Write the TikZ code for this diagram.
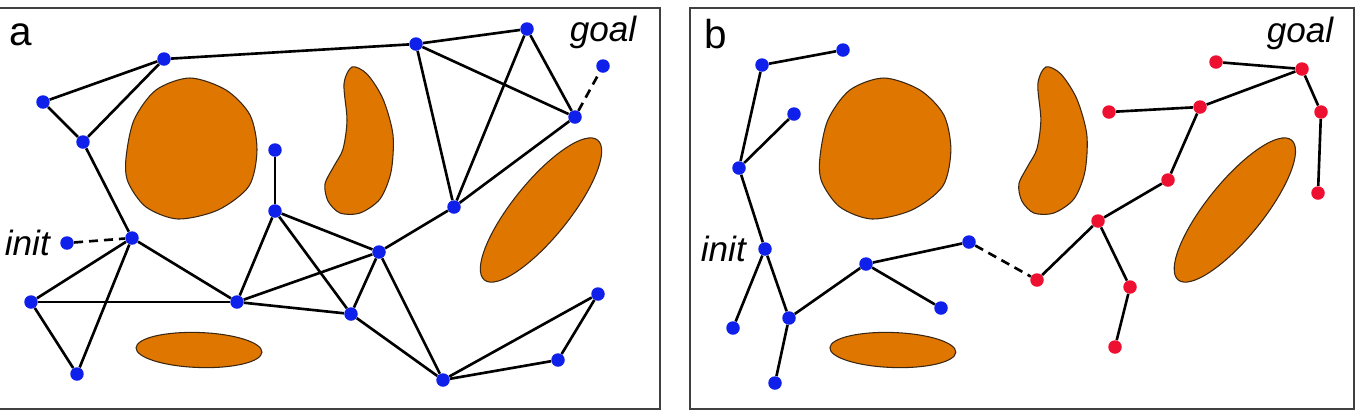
\documentclass[tikz,border=0pt]{standalone}
\usepackage{fontspec}
\setmainfont{Liberation Sans}
\usetikzlibrary{positioning}

\definecolor{obstfill}{RGB}{222,118,0}
\definecolor{treeblue}{RGB}{16,32,235}
\definecolor{treered}{RGB}{238,16,48}

% the four obstacles, drawn once per panel
\newcommand{\drawobstacles}{%
    \draw[obst] plot[smooth cycle] coordinates {(190,78) (226,90) (250,115) (257,150) (249,186)
        (218,210) (178,219) (146,207) (128,182) (126,158) (134,120) (156,90)};
    \draw[obst] plot[smooth cycle] coordinates {(352,67) (367,74) (383,99) (393,135) (391,172)
        (380,199) (360,213) (340,213) (328,201) (325,184) (334,166) (343,149) (347,120) (344,84)};
    \draw[obst, rotate around={51:(541,210)}] (541,210) ellipse [x radius=1.8cm, y radius=0.56cm];
    \draw[obst, rotate around={-2:(199,350)}] (199,350) ellipse [x radius=1.26cm, y radius=0.35cm];
}

\begin{document}
\begin{tikzpicture}[
        x=0.02cm, y=-0.02cm,
        every node/.style={font=\fontsize{20}{24}\selectfont},
        vtx/.style={circle, fill=treeblue, inner sep=0pt, minimum size=0.27cm},
        rvtx/.style={vtx, fill=treered},
        link/.style={line width=1.5pt, draw=black},
        dashlink/.style={link, dash pattern=on 0.18cm off 0.12cm},
        obst/.style={fill=obstfill, draw=black!70!brown, line width=0.6pt},
        panel/.style={draw=black!75, line width=1.6pt},
        lbl/.style={font=\fontsize{20}{24}\selectfont\itshape, inner sep=1pt},
        panellbl/.style={font=\fontsize{23}{27}\selectfont, inner sep=1pt}
        ]

    \useasboundingbox (0,0) rectangle (1360,417);

    % --- Frames and obstacles ---
        \draw[panel] (-4,8) rectangle (660,409);
        \draw[panel] (690,8) rectangle (1354,409);
        \drawobstacles
        \begin{scope}[xshift=13.88cm]
            \drawobstacles
        \end{scope}

        \node[panellbl] (taga) at (21,35) {a};
        \node[panellbl] (tagb) at (716,34) {b};

    % --- Panel a: roadmap ---
        \node[vtx] (a1) at (164,59) {};
        \node[vtx] (a2) at (43,102) {};
        \node[vtx] (a3) at (83,142) {};
        \node[vtx] (a4) at (132,238) {};
        \node[vtx] (ainit) at (67,243) {};
        \node[vtx] (a5) at (31,302) {};
        \node[vtx] (a6) at (77,374) {};
        \node[vtx] (a7) at (237,302) {};
        \node[vtx] (a8) at (275,211) {};
        \node[vtx] (a9) at (275,150) {};
        \node[vtx] (a10) at (416,44) {};
        \node[vtx] (a11) at (527,29) {};
        \node[vtx] (agoal) at (603,66) {};
        \node[vtx] (a12) at (575,117) {};
        \node[vtx] (a13) at (454,207) {};
        \node[vtx] (a14) at (379,252) {};
        \node[vtx] (a15) at (351,314) {};
        \node[vtx] (a16) at (443,380) {};
        \node[vtx] (a17) at (558,360) {};
        \node[vtx] (a18) at (598,294) {};

        \node[lbl, left=0.16cm of ainit] (initlbla) {init};
        \node[lbl] (goallbla) at (603,32) {goal};

        \draw[link] (a1) -- (a10);
        \draw[link] (a1) -- (a2);
        \draw[link] (a1) -- (a3);
        \draw[link] (a2) -- (a3);
        \draw[link] (a3) -- (a4);
        \draw[dashlink] (ainit) -- (a4);
        \draw[link] (a4) -- (a5);
        \draw[link] (a4) -- (a6);
        \draw[link] (a4) -- (a7);
        \draw[link] (a5) -- (a6);
        \draw[link] (a5) -- (a7);
        \draw[link] (a7) -- (a8);
        \draw[link] (a8) -- (a9);
        \draw[link] (a8) -- (a14);
        \draw[link] (a8) -- (a15);
        \draw[link] (a7) -- (a14);
        \draw[link] (a7) -- (a15);
        \draw[link] (a14) -- (a15);
        \draw[link] (a14) -- (a13);
        \draw[link] (a14) -- (a16);
        \draw[link] (a15) -- (a16);
        \draw[link] (a13) -- (a10);
        \draw[link] (a13) -- (a11);
        \draw[link] (a13) -- (a12);
        \draw[link] (a10) -- (a11);
        \draw[link] (a10) -- (a12);
        \draw[link] (a11) -- (a12);
        \draw[dashlink] (a12) -- (agoal);
        \draw[link] (a16) -- (a17);
        \draw[link] (a16) -- (a18);
        \draw[link] (a17) -- (a18);

    % --- Panel b: two trees ---
        \node[vtx] (b1) at (762,65) {};
        \node[vtx] (b2) at (843,50) {};
        \node[vtx] (b3) at (794,114) {};
        \node[vtx] (b4) at (739,168) {};
        \node[vtx] (b5) at (765,249) {};
        \node[vtx] (b6) at (733,328) {};
        \node[vtx] (b7) at (789,318) {};
        \node[vtx] (b8) at (775,383) {};
        \node[vtx] (b9) at (866,264) {};
        \node[vtx] (b10) at (969,242) {};
        \node[vtx] (b11) at (941,308) {};

        \node[rvtx] (r1) at (1037,280) {};
        \node[rvtx] (r2) at (1098,221) {};
        \node[rvtx] (r3) at (1130,287) {};
        \node[rvtx] (r4) at (1115,347) {};
        \node[rvtx] (r5) at (1168,180) {};
        \node[rvtx] (r6) at (1200,107) {};
        \node[rvtx] (r7) at (1109,112) {};
        \node[rvtx] (r8) at (1302,69) {};
        \node[rvtx] (r9) at (1216,62) {};
        \node[rvtx] (r10) at (1321,112) {};
        \node[rvtx] (r11) at (1318,193) {};

        \node[lbl, left=0.2cm of b5] (initlblb) {init};
        \node[lbl] (goallblb) at (1300,33) {goal};

        \draw[link] (b1) -- (b2);
        \draw[link] (b1) -- (b4);
        \draw[link] (b4) -- (b3);
        \draw[link] (b4) -- (b5);
        \draw[link] (b5) -- (b6);
        \draw[link] (b5) -- (b7);
        \draw[link] (b7) -- (b8);
        \draw[link] (b7) -- (b9);
        \draw[link] (b9) -- (b10);
        \draw[link] (b9) -- (b11);
        \draw[dashlink] (b10) -- (r1);

        \draw[link] (r1) -- (r2);
        \draw[link] (r2) -- (r3);
        \draw[link] (r3) -- (r4);
        \draw[link] (r2) -- (r5);
        \draw[link] (r5) -- (r6);
        \draw[link] (r6) -- (r7);
        \draw[link] (r6) -- (r8);
        \draw[link] (r8) -- (r9);
        \draw[link] (r8) -- (r10);
        \draw[link] (r10) -- (r11);

    \end{tikzpicture}
\end{document}
